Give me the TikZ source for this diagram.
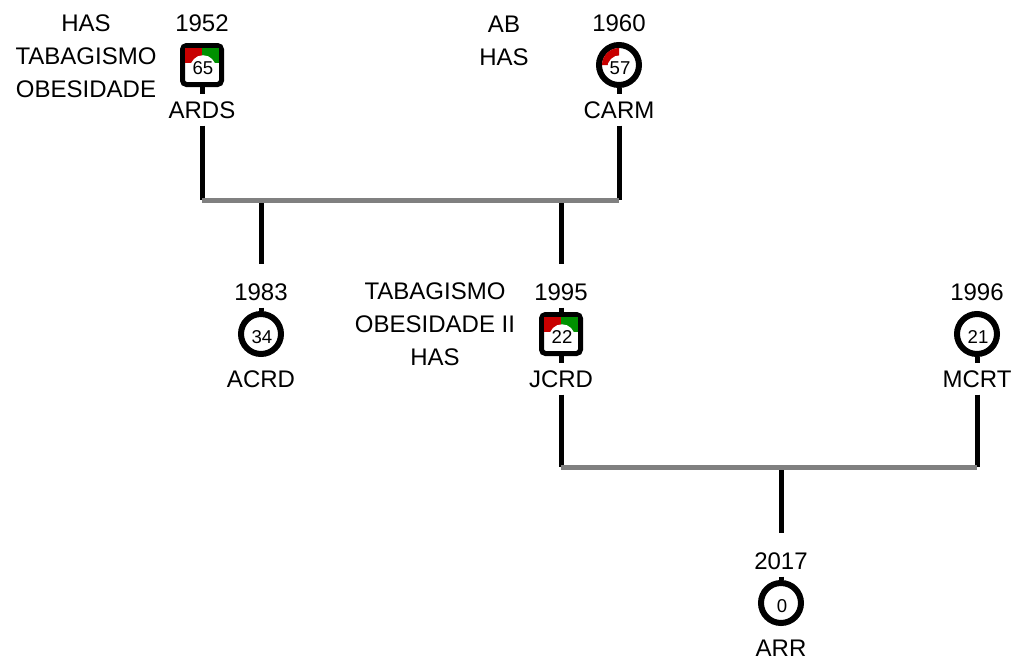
\documentclass[tikz,border=0pt]{standalone}
\usepackage{fontspec}
\setmainfont{Liberation Sans}
\usepackage{tikz}
\usetikzlibrary{positioning,calc}

\definecolor{gcred}{RGB}{200,0,0}
\definecolor{gcgreen}{RGB}{0,145,0}
\definecolor{gcgray}{RGB}{128,128,128}

\tikzset{
  male/.style={draw,line width=2.5pt,rounded corners=2pt,minimum size=19.5pt,inner sep=0pt},
  female/.style={draw,circle,line width=3pt,minimum size=20pt,inner sep=0pt},
  age/.style={fill=white,circle,inner sep=0.2pt,font=\fontsize{9.3}{10}\selectfont},
  kin/.style={line width=2.5pt},
  sib/.style={line width=2.5pt,gcgray},
}

\begin{document}
\begin{tikzpicture}[x=0.5pt,y=-0.5pt,every node/.style={font=\fontsize{12}{16.5}\selectfont}]
  \useasboundingbox (0,0) rectangle (1024,660);
  % name/x/y/year/label/age/male/marked
  \foreach \n/\x/\y/\yr/\lab/\age/\s/\m in {ards/202/65/1952/ARDS/65/1/1, carm/619/65/1960/CARM/57/0/1,
      acrd/261/334/1983/ACRD/34/0/0, jcrd/561/334/1995/JCRD/22/1/1,
      mcrt/977/334/1996/MCRT/21/0/0, arr/781/603/2017/ARR/0/0/0}{
     \ifnum\s=1 \node[male] (\n) at (\x,\y) {};
     \else \node[female] (\n) at (\x,\y) {}; \fi
     \ifnum\m=1
       \ifnum\s=1
         \fill[gcred] ({\x-17},{\y-17}) rectangle (\x,{\y-2});
         \fill[gcgreen] (\x,{\y-17}) rectangle ({\x+17},{\y-2});
       \else
         \fill[gcred] (\x,\y) -- ({\x-17},\y) arc[start angle=180,end angle=90,radius=8.5pt] -- cycle;
       \fi
     \fi
     \node[age] at ({\x+1},{\y+3}) {\age};
     \node (\n-yr) at (\x,{\y-42}) {\yr};
     \node (\n-nm) at (\x,{\y+45}) {\lab};
  }
  % conditions
  \node[align=center] (ards-dx) at (86,56) {HAS\\TABAGISMO\\OBESIDADE};
  \node[align=center] (carm-dx) at (504,41) {AB\\HAS};
  \node[align=center] (jcrd-dx) at (435,324) {TABAGISMO\\OBESIDADE II\\HAS};
  % stubs below the parents
  \foreach \c in {ards,carm,jcrd,mcrt}
     \draw[kin] (\c.south) -- (\c-nm.north);
  % first family
  \coordinate (sib1) at (0,200);
  \draw[kin] (ards-nm.south) -- (ards-nm.south |- sib1);
  \draw[kin] (carm-nm.south) -- (carm-nm.south |- sib1);
  \foreach \c in {acrd,jcrd}{
     \draw[kin,shorten >=6pt] (\c-yr.north |- sib1) -- (\c-yr.north);
     \draw[kin] (\c-yr.south) -- (\c.north);
  }
  \draw[sib] (ards-nm.south |- sib1) -- (carm-nm.south |- sib1);
  % second family
  \coordinate (sib2) at (0,467);
  \draw[kin] (jcrd-nm.south) -- (jcrd-nm.south |- sib2);
  \draw[kin] (mcrt-nm.south) -- (mcrt-nm.south |- sib2);
  \draw[kin,shorten >=6pt] (arr-yr.north |- sib2) -- (arr-yr.north);
  \draw[kin] (arr-yr.south) -- (arr.north);
  \draw[sib] (jcrd-nm.south |- sib2) -- (mcrt-nm.south |- sib2);
\end{tikzpicture}
\end{document}
